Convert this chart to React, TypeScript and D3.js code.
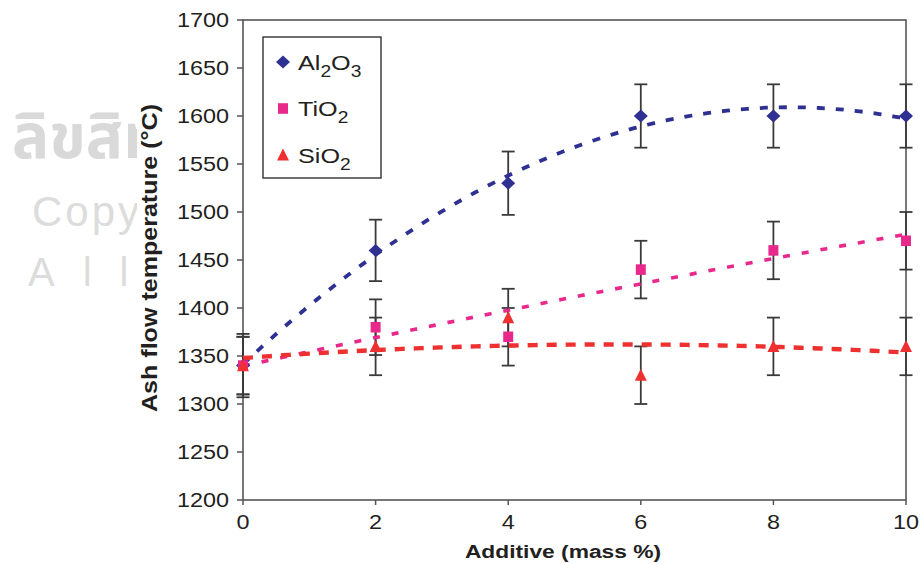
import React from "react";
import * as d3 from "d3";

const X_VALUES = [0, 2, 4, 6, 8, 10];
const AL2O3 = [1340, 1460, 1530, 1600, 1600, 1600];
const AL2O3_ERR = [33, 32, 33, 33, 33, 33];
const TIO2 = [1340, 1380, 1370, 1440, 1460, 1470];
const TIO2_ERR = [30, 29, 30, 30, 30, 30];
const SIO2 = [1340, 1360, 1390, 1330, 1360, 1360];
const SIO2_ERR = [30, 30, 30, 30, 30, 30];
const Y_TICKS = [1200, 1250, 1300, 1350, 1400, 1450, 1500, 1550, 1600, 1650, 1700];
const X_TICKS = [0, 2, 4, 6, 8, 10];
const X_TITLE = "Additive (mass %)";
const Y_TITLE = "Ash flow temperature (°C)";

const W = 920;
const H = 564;
const SX = 1.2; // horizontal stretch of text in the reference
const FONT = "'Liberation Sans', Arial, sans-serif";
const AXIS = "#555555";
const ERR = "#3a3a3a";

type Series = {
  key: string;
  main: string;
  sub1?: string;
  mid?: string;
  sub2?: string;
  values: number[];
  errs: number[];
  color: string;
  dash: string;
  width: number;
  marker: "diamond" | "square" | "triangle";
};

const SERIES: Series[] = [
  { key: "al", main: "Al", sub1: "2", mid: "O", sub2: "3", values: AL2O3, errs: AL2O3_ERR, color: "#2e3192", dash: "8,11", width: 3.8, marker: "diamond" },
  { key: "ti", main: "TiO", sub1: "2", values: TIO2, errs: TIO2_ERR, color: "#e8288b", dash: "7,12", width: 3.6, marker: "square" },
  { key: "si", main: "SiO", sub1: "2", values: SIO2, errs: SIO2_ERR, color: "#ee3030", dash: "10,9", width: 4.4, marker: "triangle" },
];

function quadFit(xs: number[], ys: number[]) {
  // least squares y = a + b x + c x^2
  let s0 = 0, s1 = 0, s2 = 0, s3 = 0, s4 = 0, t0 = 0, t1 = 0, t2 = 0;
  xs.forEach((x, i) => {
    const y = ys[i];
    s0 += 1; s1 += x; s2 += x * x; s3 += x ** 3; s4 += x ** 4;
    t0 += y; t1 += x * y; t2 += x * x * y;
  });
  const M = [
    [s0, s1, s2, t0],
    [s1, s2, s3, t1],
    [s2, s3, s4, t2],
  ];
  for (let i = 0; i < 3; i++) {
    for (let j = i + 1; j < 3; j++) {
      const f = M[j][i] / M[i][i];
      for (let k = i; k < 4; k++) M[j][k] -= f * M[i][k];
    }
  }
  const c = M[2][3] / M[2][2];
  const b = (M[1][3] - M[1][2] * c) / M[1][1];
  const a = (M[0][3] - M[0][1] * b - M[0][2] * c) / M[0][0];
  return (x: number) => a + b * x + c * x * x;
}

function markerPath(kind: string, cx: number, cy: number) {
  if (kind === "diamond") {
    const w = 7, h = 6.5;
    return `M${cx},${cy - h}L${cx + w},${cy}L${cx},${cy + h}L${cx - w},${cy}Z`;
  }
  if (kind === "square") {
    const w = 5, h = 5.3;
    return `M${cx - w},${cy - h}H${cx + w}V${cy + h}H${cx - w}Z`;
  }
  const w = 6, h = 6.5;
  return `M${cx},${cy - h}L${cx + w},${cy + h * 0.85}L${cx - w},${cy + h * 0.85}Z`;
}

function SText(props: { x: number; y: number; anchor?: string; size: number; bold?: boolean; children: React.ReactNode; fill?: string }) {
  const { x, y, anchor = "start", size, bold, children, fill = "#231f20" } = props;
  return (
    <g transform={`translate(${x},${y}) scale(${SX},1)`}>
      <text x={0} y={0} textAnchor={anchor} fontSize={size} fontWeight={bold ? "bold" : "normal"} fontFamily={FONT} fill={fill}>
        {children}
      </text>
    </g>
  );
}

export default function App() {
  const x = d3.scaleLinear().domain([0, 10]).range([243, 906]);
  const y = d3.scaleLinear().domain([1200, 1700]).range([500, 20]);
  const [x0, x1] = x.range();
  const [y0, y1] = y.range();

  const samples = d3.range(0, 10.0001, 0.1);
  const line = d3
    .line<[number, number]>()
    .x((d) => x(d[0]))
    .y((d) => y(d[1]))
    .curve(d3.curveLinear);

  const cap = 6.5;

  return (
    <svg width={W} height={H} style={{ position: "absolute", left: 0, top: 0, background: "#fff" }}>
      <defs>
        <clipPath id="wm">
          <rect x={0} y={0} width={137} height={H} />
        </clipPath>
      </defs>
      {/* watermark */}
      <g clipPath="url(#wm)" fill="#d9d9d9" fontFamily="'Noto Sans Thai', 'DejaVu Sans', 'Noto Sans', sans-serif">
        <text x={12} y={158} fontSize={62} fontWeight="bold">ลิขสิทธิ์มหาวิทยาลัยเชียงใหม่</text>
        <text x={32} y={226} fontSize={42} letterSpacing={3} fontFamily={FONT} fill="#dcdcdc">Copyright by Chiang Mai University</text>
        <text x={28} y={286} fontSize={40} letterSpacing={28} fontFamily={FONT} fill="#dcdcdc">All rights reserved</text>
      </g>

      {/* frame */}
      <rect x={x0} y={y1} width={x1 - x0} height={y0 - y1} fill="none" stroke={AXIS} strokeWidth={1.6} />

      {/* y ticks */}
      {Y_TICKS.map((t) => (
        <g key={`y${t}`}>
          <line x1={x0 - 6} x2={x0} y1={y(t)} y2={y(t)} stroke={AXIS} strokeWidth={1.5} />
          <SText x={x0 - 14} y={y(t) + 7} anchor="end" size={19.5}>{t}</SText>
        </g>
      ))}
      {/* x ticks */}
      {X_TICKS.map((t) => (
        <g key={`x${t}`}>
          <line x1={x(t)} x2={x(t)} y1={y0} y2={y0 + 5} stroke={AXIS} strokeWidth={1.5} />
          <SText x={x(t)} y={y0 + 28.5} anchor="middle" size={19.5}>{t}</SText>
        </g>
      ))}

      {/* axis titles */}
      <SText x={563} y={558} anchor="middle" size={19} bold>{X_TITLE}</SText>
      <text
        transform={`translate(157,258) rotate(-90)`}
        x={0}
        y={0}
        textAnchor="middle"
        fontSize={22}
        fontWeight="bold"
        fontFamily={FONT}
        fill="#231f20"
        textLength={308}
        lengthAdjust="spacingAndGlyphs"
      >
        {Y_TITLE}
      </text>

      {/* error bars */}
      {SERIES.map((s) =>
        X_VALUES.map((xv, i) => {
          const cx = x(xv);
          const top = y(s.values[i] + s.errs[i]);
          const bot = y(s.values[i] - s.errs[i]);
          return (
            <g key={`e${s.key}${i}`} stroke={ERR} strokeWidth={1.8}>
              <line x1={cx} x2={cx} y1={top} y2={bot} />
              <line x1={cx - cap} x2={cx + cap} y1={top} y2={top} />
              <line x1={cx - cap} x2={cx + cap} y1={bot} y2={bot} />
            </g>
          );
        })
      )}

      {/* trend lines */}
      {SERIES.map((s) => {
        const f = quadFit(X_VALUES, s.values);
        const pts = samples.map((v) => [v, f(v)] as [number, number]);
        return (
          <path key={`l${s.key}`} d={line(pts) || ""} fill="none" stroke={s.color} strokeWidth={s.width} strokeDasharray={s.dash} />
        );
      })}

      {/* markers */}
      {SERIES.map((s) =>
        X_VALUES.map((xv, i) => (
          <path key={`m${s.key}${i}`} d={markerPath(s.marker, x(xv), y(s.values[i]))} fill={s.color} />
        ))
      )}

      {/* legend */}
      <rect x={263} y={37} width={118} height={141} fill="#fff" stroke="#333" strokeWidth={1.4} />
      {SERIES.map((s, i) => {
        const cy = 62 + i * 46.5;
        return (
          <g key={`lg${s.key}`}>
            <path d={markerPath(s.marker, 283, cy)} fill={s.color} />
            <g transform={`translate(298,${cy + 7.5}) scale(${SX},1)`}>
              <text x={0} y={0} fontSize={21} fontFamily={FONT} fill="#231f20">
                {s.main}
                {s.sub1 && <tspan fontSize={16} dy={7}>{s.sub1}</tspan>}
                {s.mid && <tspan dy={-7}>{s.mid}</tspan>}
                {s.sub2 && <tspan fontSize={16} dy={7}>{s.sub2}</tspan>}
              </text>
            </g>
          </g>
        );
      })}
    </svg>
  );
}
